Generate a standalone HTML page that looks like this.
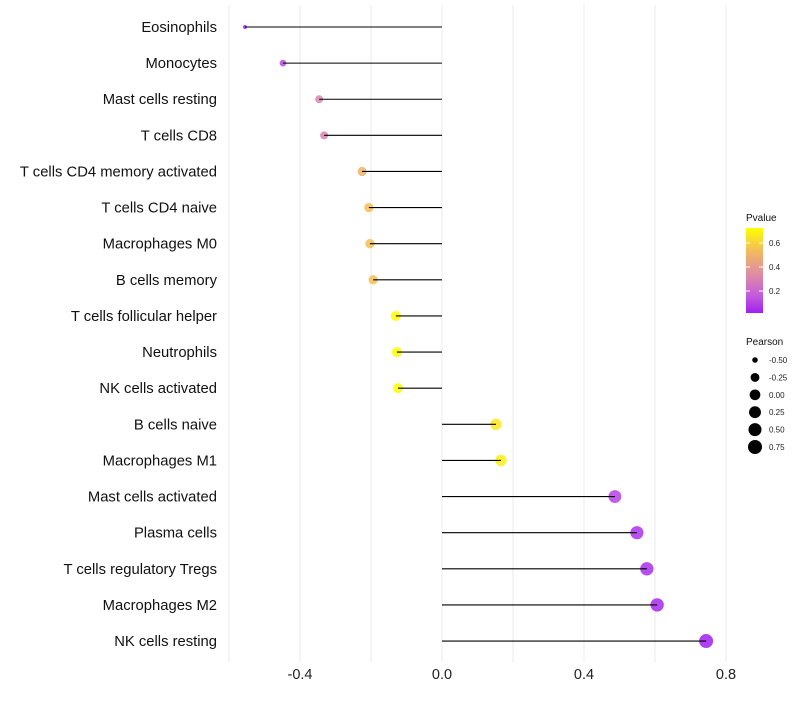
<!DOCTYPE html>
<html><head><meta charset="utf-8"><style>
body{margin:0;background:#fff;font-family:"Liberation Sans",sans-serif}
svg text{font-family:"Liberation Sans",sans-serif}
</style></head><body>
<svg id="c" width="800" height="700"></svg>
<script>
const categories=["Eosinophils","Monocytes","Mast cells resting","T cells CD8","T cells CD4 memory activated","T cells CD4 naive","Macrophages M0","B cells memory","T cells follicular helper","Neutrophils","NK cells activated","B cells naive","Macrophages M1","Mast cells activated","Plasma cells","T cells regulatory  Tregs ","Macrophages M2","NK cells resting"];
const pearson=[-0.555,-0.448,-0.346,-0.332,-0.225,-0.206,-0.203,-0.194,-0.130,-0.127,-0.124,0.152,0.166,0.487,0.549,0.577,0.606,0.744];
const pvalue=[0.02,0.12,0.3,0.3,0.5,0.55,0.55,0.55,0.72,0.72,0.72,0.66,0.68,0.1,0.06,0.05,0.04,0.01];
const xTicks=[-0.4,0.0,0.4,0.8];
const xTickLabels=["-0.4","0.0","0.4","0.8"];
const xMinor=[-0.6,-0.2,0.2,0.6];
const sizeLegend=[-0.5,-0.25,0,0.25,0.5,0.75];
const pLegendTicks=[0.2,0.4,0.6];

const NS="http://www.w3.org/2000/svg";
const svg=document.getElementById('c');
function el(t,a,p){const e=document.createElementNS(NS,t);for(const k in a)e.setAttribute(k,a[k]);(p||svg).appendChild(e);return e;}
const x=v=>442+v*355;
const y=i=>27+i*36.12;
const sizeKnots=[[-0.555,4],[-0.45,11],[-0.13,25],[0.75,49]];
function r(v){let k=sizeKnots;if(v<=k[0][0])return 2;for(let i=1;i<k.length;i++){if(v<=k[i][0]){const f=(v-k[i-1][0])/(k[i][0]-k[i-1][0]);return Math.sqrt(k[i-1][1]+f*(k[i][1]-k[i-1][1]));}}return 7;}
const pMin=0.017,pMax=0.725;
const stops=[[0,[160,32,240]],[0.2,[195,90,222]],[0.45,[222,140,165]],[0.72,[242,184,96]],[1,[255,255,0]]];
function col(p){let t=Math.max(0,Math.min(1,(p-pMin)/(pMax-pMin)));for(let i=1;i<stops.length;i++){if(t<=stops[i][0]){const a=stops[i-1],b=stops[i];const f=(t-a[0])/(b[0]-a[0]);const c=a[1].map((v,k)=>Math.round(v+(b[1][k]-v)*f));return `rgb(${c})`;}}return 'rgb(255,255,0)';}

[...xTicks,...xMinor].forEach(v=>{const g=el('line',{x1:x(v),x2:x(v),y1:5,y2:662,stroke:'#ebebeb','stroke-width':1});

});
xTicks.forEach((v,i)=>{const t=el('text',{x:x(v),y:679,'text-anchor':'middle','font-size':14.5,fill:'#222'});t.textContent=xTickLabels[i];

});
categories.forEach((c,i)=>{
const t=el('text',{x:217,y:y(i)+5,'text-anchor':'end','font-size':14.8,fill:'#111','xml:space':'preserve'});t.textContent=c;


const d=el('circle',{cx:x(pearson[i]),cy:y(i),r:r(pearson[i]),fill:col(pvalue[i]),'fill-opacity':0.85});


const l=el('line',{x1:x(0),x2:x(pearson[i]),y1:y(i),y2:y(i),stroke:'#000','stroke-width':1.1});


});
const lt=el('text',{x:746,y:221,'font-size':10,fill:'#111'});lt.textContent='Pvalue';


const defs=el('defs',{});const lg=el('linearGradient',{id:'g',x1:0,y1:1,x2:0,y2:0},defs);
stops.forEach(s=>el('stop',{offset:s[0],'stop-color':`rgb(${s[1]})`},lg));
const bar=el('rect',{x:746,y:228,width:17,height:85,fill:'url(#g)'});


const py=p=>313-(p-pMin)/(pMax-pMin)*85;
pLegendTicks.forEach(p=>{el('line',{x1:746,x2:750,y1:py(p),y2:py(p),stroke:'#fff'});el('line',{x1:759,x2:763,y1:py(p),y2:py(p),stroke:'#fff'});
const t=el('text',{x:769,y:py(p)+3,'font-size':8,fill:'#222'});t.textContent=p.toFixed(1);

});
const st=el('text',{x:746,y:345,'font-size':10,fill:'#111'});st.textContent='Pearson';


sizeLegend.forEach((v,i)=>{const cy=360+i*17.4;
const c=el('circle',{cx:755,cy:cy,r:r(v),fill:'#000'});


const t=el('text',{x:769,y:cy+3,'font-size':8,fill:'#222'});t.textContent=v.toFixed(2);

});
</script>
</body></html>
